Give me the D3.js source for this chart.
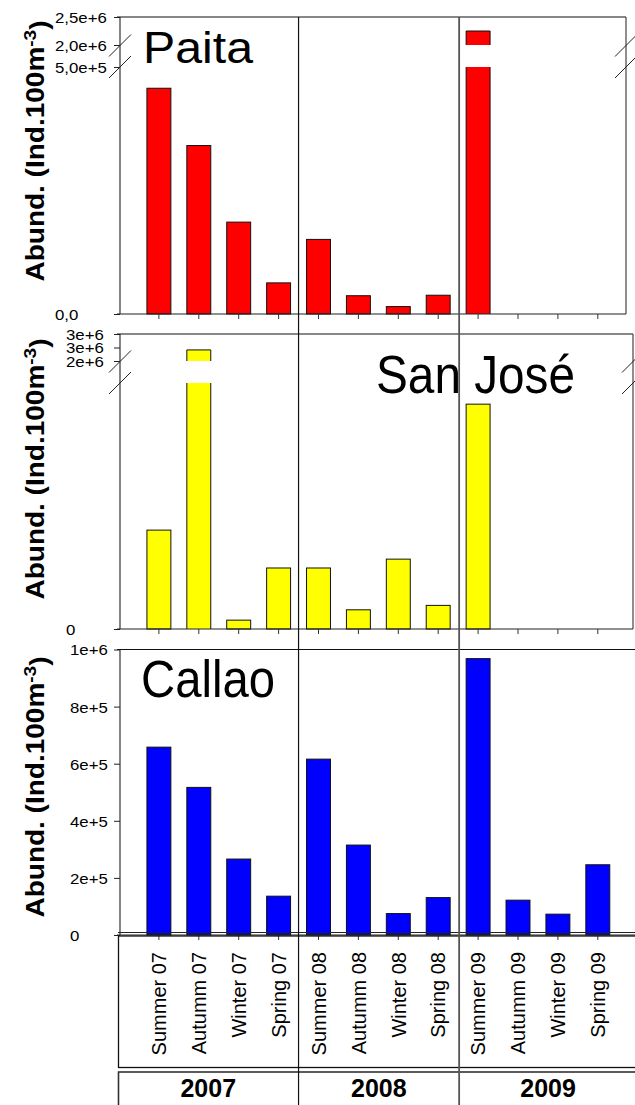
<!DOCTYPE html>
<html>
<head>
<meta charset="utf-8">
<script src="https://cdn.jsdelivr.net/npm/d3@7"></script>
<style>
  body { margin: 0; background: #fff; }
  svg { display: block; }
  text { font-family: "Liberation Sans", Arial, sans-serif; fill: #000; }
</style>
</head>
<body>
<script>
// ---------------- DATA ----------------
const categories = ["Summer 07","Autumm 07","Winter 07","Spring 07",
                    "Summer 08","Autumm 08","Winter 08","Spring 08",
                    "Summer 09","Autumm 09","Winter 09","Spring 09"];
const years = ["2007","2008","2009"];

const paitaValues   = [457000, 341000, 186000, 63000, 151000, 37000, 15000, 38000, 2250000, null, null, null];
const sanJoseValues = [201000, 2410000, 18000, 124000, 124000, 39000, 142000, 48000, 457000, null, null, null];
const callaoValues  = [658000, 517000, 266000, 136000, 616000, 315000, 75000, 131000, 968000, 122000, 73000, 246000];

const paitaLowerTicks  = [0, 500000];
const paitaLowerLabels = ["0,0", "5,0e+5"];
const paitaUpperTicks  = [2000000, 2500000];
const paitaUpperLabels = ["2,0e+6", "2,5e+6"];

const sanJoseLowerTicks  = [0];
const sanJoseLowerLabels = ["0"];
const sanJoseUpperTicks  = [2000000, 2500000, 3000000];
const sanJoseUpperLabels = ["2e+6", "3e+6", "3e+6"];

const callaoTicks  = [0, 200000, 400000, 600000, 800000, 1000000];
const callaoLabels = ["0", "2e+5", "4e+5", "6e+5", "8e+5", "1e+6"];

const yTitle = "Abund. (Ind.100m";
const yTitleSup = "-3";

// ---------------- LAYOUT ----------------
const W = 635, H = 1105;
const axisX = 120;
const svg = d3.select("body").append("svg").attr("width", W).attr("height", H);

const x = d3.scaleBand().domain(categories).range([119, 637.7])
  .paddingInner(0.4).paddingOuter(0.7);
const step = x.step();
const cx = c => x(c) + x.bandwidth() / 2;

const panels = [
  { name: "Paita", values: paitaValues, color: "#ff0000",
    top: 17, base: 314, right: 626,
    lower: d3.scaleLinear().domain([0, 500000]).range([314, 67]),
    upper: d3.scaleLinear().domain([2000000, 2500000]).range([45, 17]),
    lowerTicks: paitaLowerTicks, lowerLabels: paitaLowerLabels,
    upperTicks: paitaUpperTicks, upperLabels: paitaUpperLabels,
    labelX: 55, title: { x: 143, y: 63, size: 44, len: 110 },
    yTitleY: 151 },
  { name: "San José", values: sanJoseValues, color: "#ffff00",
    top: 334, base: 629, right: 633,
    lower: d3.scaleLinear().domain([0, 500000]).range([629, 383]),
    upper: d3.scaleLinear().domain([2000000, 3000000]).range([361, 334]),
    lowerTicks: sanJoseLowerTicks, lowerLabels: sanJoseLowerLabels,
    upperTicks: sanJoseUpperTicks, upperLabels: sanJoseUpperLabels,
    labelX: 66, title: { x: 376, y: 393, size: 54, len: 199 },
    yTitleY: 469 },
  { name: "Callao", values: callaoValues, color: "#0000ff",
    top: 649.5, base: 935, right: 640,
    lower: d3.scaleLinear().domain([0, 1000000]).range([935, 649.5]),
    upper: null,
    lowerTicks: callaoTicks, lowerLabels: callaoLabels,
    labelX: 70, title: { x: 141, y: 697, size: 51, len: 134 },
    yTitleY: 787 }
];

const tickFont = 15;

function drawAxisLabels(g, scale, ticks, labels, labelX) {
  const ax = d3.axisLeft(scale).tickValues(ticks).tickSize(6)
    .tickFormat((d, i) => labels[i]);
  g.call(ax);
  g.select(".domain").remove();
  g.selectAll(".tick line").attr("stroke", "#222");
  g.selectAll(".tick text")
    .attr("x", 0).attr("dy", "0.36em")
    .attr("text-anchor", "start")
    .style("font-size", tickFont + "px")
    .style("font-family", '"Liberation Sans", Arial, sans-serif')
    .attr("transform", `translate(${labelX - axisX},0) scale(1.12,1)`);
}

panels.forEach(p => {
  const g = svg.append("g");
  // bars
  p.values.forEach((v, i) => {
    if (v === null || v === undefined) return;
    const c = categories[i];
    const x0 = x(c), bw = x.bandwidth();
    const lowMax = p.lower.domain()[1];
    if (!p.upper || v <= lowMax) {
      const y0 = p.lower(v);
      g.append("rect").attr("x", x0).attr("y", y0)
        .attr("width", bw).attr("height", p.base - y0)
        .attr("fill", p.color).attr("stroke", "#111").attr("stroke-width", 1);
    } else {
      const yLowTop = p.lower(lowMax);
      g.append("rect").attr("x", x0).attr("y", yLowTop)
        .attr("width", bw).attr("height", p.base - yLowTop)
        .attr("fill", p.color);
      g.append("path")
        .attr("d", `M${x0},${yLowTop}V${p.base}M${x0 + bw},${yLowTop}V${p.base}`)
        .attr("stroke", "#111").attr("fill", "none");
      const yU = p.upper(v), yUb = p.upper(p.upper.domain()[0]);
      g.append("rect").attr("x", x0).attr("y", yU)
        .attr("width", bw).attr("height", yUb - yU)
        .attr("fill", p.color);
      g.append("path")
        .attr("d", `M${x0},${yUb}V${yU}H${x0 + bw}V${yUb}`)
        .attr("stroke", "#111").attr("fill", "none");
    }
  });

  // frame: left axis, top, right, bottom
  g.append("line").attr("x1", axisX).attr("x2", axisX)
    .attr("y1", p.top).attr("y2", p.base).attr("stroke", "#333").attr("stroke-width", 1.2);
  g.append("line").attr("x1", axisX - 3).attr("x2", p.right)
    .attr("y1", p.top).attr("y2", p.top).attr("stroke", "#111").attr("stroke-width", 1.2);
  if (p.right < W) {
    g.append("line").attr("x1", p.right).attr("x2", p.right)
      .attr("y1", p.top).attr("y2", p.base).attr("stroke", "#444").attr("stroke-width", 1.2);
  }
  g.append("line").attr("x1", axisX - 3).attr("x2", p.right)
    .attr("y1", p.base).attr("y2", p.base).attr("stroke", "#222").attr("stroke-width", 1.2);

  // x ticks
  g.selectAll(".xt").data(categories).enter().append("line")
    .attr("x1", d => cx(d)).attr("x2", d => cx(d))
    .attr("y1", p.base).attr("y2", p.base + 5)
    .attr("stroke", "#333");

  // y axis ticks + labels
  drawAxisLabels(g.append("g").attr("transform", `translate(${axisX},0)`),
    p.lower, p.lowerTicks, p.lowerLabels, p.labelX);
  if (p.upper) {
    drawAxisLabels(g.append("g").attr("transform", `translate(${axisX},0)`),
      p.upper, p.upperTicks, p.upperLabels, p.labelX);
    // break marks on both sides
    const yb1 = p.upper.range()[0] + 0.5;
    const yb2 = p.lower.range()[1];
    [axisX, p.right].forEach(bx => {
      [yb1, yb2].forEach(by => {
        g.append("line")
          .attr("x1", bx - 11).attr("y1", by + 11)
          .attr("x2", bx + 11).attr("y2", by - 11)
          .attr("stroke", "#222").attr("stroke-width", 1);
      });
    });
  }

  // panel title
  g.append("text").attr("x", p.title.x).attr("y", p.title.y)
    .attr("textLength", p.title.len).attr("lengthAdjust", "spacingAndGlyphs")
    .style("font-size", p.title.size + "px")
    .text(p.name);

  // y title
  const t = g.append("text")
    .attr("transform", `translate(44,${p.yTitleY}) rotate(-90) scale(1.12,1)`)
    .attr("text-anchor", "middle")
    .style("font-size", "25px").style("font-weight", "bold");
  t.append("tspan").text(yTitle);
  t.append("tspan").attr("dy", "-0.45em").style("font-size", "17px").text(yTitleSup);
  t.append("tspan").attr("dy", "0.45em").text(")");
});

// extra baseline line in bottom panel
svg.append("line").attr("x1", 118).attr("x2", 640)
  .attr("y1", 932.5).attr("y2", 932.5).attr("stroke", "#222").attr("stroke-width", 1.2);

// category label box
svg.append("rect").attr("x", 118.5).attr("y", 936).attr("width", 530).attr("height", 131.5)
  .attr("fill", "none").attr("stroke", "#111").attr("stroke-width", 1.3);
// year box
svg.append("rect").attr("x", 118.5).attr("y", 1072).attr("width", 530).attr("height", 60)
  .attr("fill", "none").attr("stroke", "#333").attr("stroke-width", 1.6);

// rotated category labels
svg.selectAll(".cl").data(categories).enter().append("text")
  .attr("transform", d => `translate(${cx(d)},952) rotate(-90)`)
  .attr("text-anchor", "end").attr("dy", "0.36em")
  .style("font-size", "20px")
  .text(d => d);

// year dividers (full height)
const dividers = [1, 2].map(k => cx(categories[k * 4 - 1]) + step / 2);
dividers.forEach((dx, k) => {
  svg.append("line").attr("x1", dx + k).attr("x2", dx + k)
    .attr("y1", 17).attr("y2", H)
    .attr("stroke", k === 0 ? "#111" : "#555").attr("stroke-width", k === 0 ? 1.2 : 1.8);
});

// year labels
const edges = [118, dividers[0], dividers[1] + 1, 637];
years.forEach((yr, i) => {
  svg.append("text").attr("x", (edges[i] + edges[i + 1]) / 2).attr("y", 1097)
    .attr("text-anchor", "middle")
    .style("font-size", "25px").style("font-weight", "bold")
    .text(yr);
});
</script>
</body>
</html>
